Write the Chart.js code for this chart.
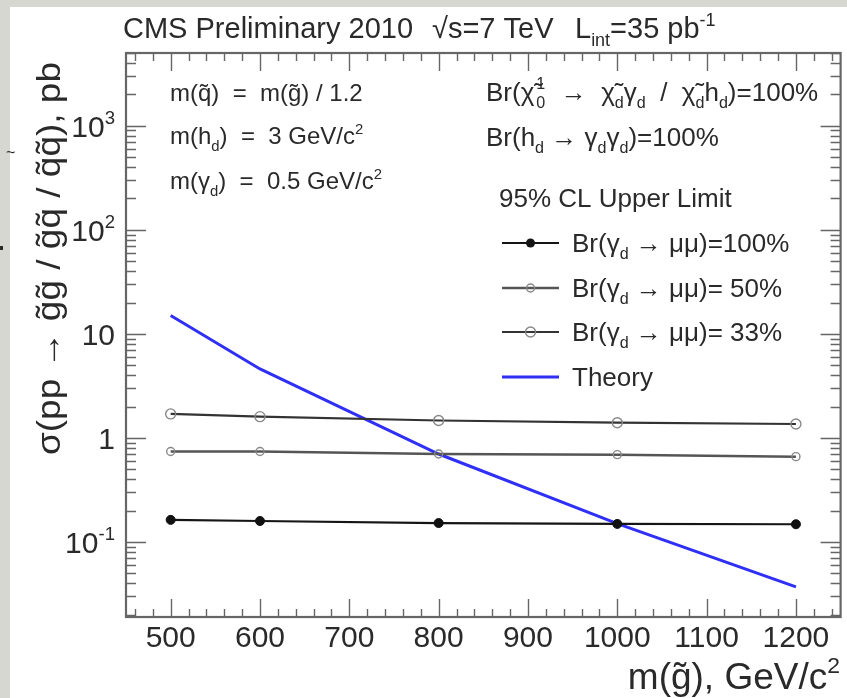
<!DOCTYPE html>
<html>
<head>
<meta charset="utf-8">
<script src="https://cdn.jsdelivr.net/npm/chart.js@4"></script>
<style>
  html, body { margin: 0; padding: 0; background: #fff; }
  canvas { display: block; }
</style>
</head>
<body>
<canvas id="limits" width="847" height="698"></canvas>
<script>
/* ── data ─────────────────────────────────────────────────── */
const MASS       = [500, 600, 800, 1000, 1200];
const LIMIT_100  = [0.163, 0.159, 0.152, 0.149, 0.148];
const LIMIT_50   = [0.74, 0.74, 0.70, 0.69, 0.66];
const LIMIT_33   = [1.70, 1.60, 1.47, 1.40, 1.36];
const THEORY     = [15.0, 4.6, 0.70, 0.15, 0.037];

const X_TICKS    = [500, 600, 700, 800, 900, 1000, 1100, 1200];
const Y_TICKS    = [0.1, 1, 10, 100, 1000];
const Y_LABELS   = [['10', '-1'], ['1', ''], ['10', ''], ['10', '2'], ['10', '3']];

/* ── styling ──────────────────────────────────────────────── */
const INK    = '#2a2a2a';
const FRAME  = '#666';
const BLUE   = '#2f2ff5';
const FAMILY = "'Liberation Sans', Arial, Helvetica, sans-serif";
const font = s => `${s}px ${FAMILY}`;

const pts = ys => MASS.map((m, i) => ({ x: m, y: ys[i] }));

/* rich text: parts = [text, kind], kind 'n' | 'sub' | 'sup' | 'ss' (sup over sub) */
function partWidth(ctx, p, size) {
    const [t, k] = p;
    if (k === 'n') { ctx.font = font(size); return ctx.measureText(t).width; }
    ctx.font = font(size * 0.62);
    if (k === 'ss') return Math.max(ctx.measureText(t[0]).width, ctx.measureText(t[1]).width);
    return ctx.measureText(t).width;
}
function drawRich(ctx, x, y, parts, size, align) {
    const total = parts.reduce((a, p) => a + partWidth(ctx, p, size), 0);
    let cx = align === 'right' ? x - total : align === 'center' ? x - total / 2 : x;
    ctx.textAlign = 'left';
    ctx.textBaseline = 'alphabetic';
    for (const p of parts) {
        const [t, k] = p;
        const w = partWidth(ctx, p, size);
        if (k === 'n') { ctx.font = font(size); ctx.fillText(t, cx, y); }
        else if (k === 'sup') { ctx.font = font(size * 0.62); ctx.fillText(t, cx, y - size * 0.42); }
        else if (k === 'sub') { ctx.font = font(size * 0.62); ctx.fillText(t, cx, y + size * 0.28); }
        else { ctx.font = font(size * 0.62); ctx.fillText(t[0], cx + 2, y - size * 0.48); ctx.fillText(t[1], cx + 2, y + size * 0.28); }
        cx += w + (k === 'ss' ? 3 : 0);
    }
}

const LEGEND = [
    { parts: [['Br(γ', 'n'], ['d', 'sub'], [' → μμ)=100%', 'n']], color: '#151515', width: 2.2, marker: 'filled', r: 4.5 },
    { parts: [['Br(γ', 'n'], ['d', 'sub'], [' → μμ)= 50%', 'n']], color: '#555', width: 2.5, marker: 'open', r: 4 },
    { parts: [['Br(γ', 'n'], ['d', 'sub'], [' → μμ)= 33%', 'n']], color: '#333', width: 2.2, marker: 'open', r: 5 },
    { parts: [['Theory', 'n']], color: BLUE, width: 3, marker: null },
];

const decor = {
    id: 'decor',
    beforeDraw(chart) {
        const { ctx, width, height } = chart;
        ctx.save();
        ctx.fillStyle = '#d7d7d1';
        ctx.fillRect(0, 0, width, height);
        ctx.fillStyle = '#ffffff';
        ctx.fillRect(10, 7, width - 10, height - 7);
        ctx.restore();
    },
    beforeDatasetsDraw(chart) {
        const { ctx, chartArea: a, scales: { x, y } } = chart;
        ctx.save();
        ctx.strokeStyle = FRAME;
        ctx.lineWidth = 1.4;
        ctx.beginPath();
        // x ticks, every 20 with majors every 100
        for (let v = 460; v <= 1240; v += 20) {
            const px = Math.round(x.getPixelForValue(v)) + 0.5;
            const len = v % 100 === 0 ? 18 : 8;
            ctx.moveTo(px, a.bottom); ctx.lineTo(px, a.bottom - len);
            ctx.moveTo(px, a.top);    ctx.lineTo(px, a.top + len);
        }
        // y ticks, log minors
        for (let e = -2; e <= 3; e++) {
            for (let k = 1; k <= 9; k++) {
                const v = k * Math.pow(10, e);
                if (v < y.min || v > y.max) continue;
                const py = Math.round(y.getPixelForValue(v)) + 0.5;
                const len = k === 1 ? 20 : 10;
                ctx.moveTo(a.left, py);  ctx.lineTo(a.left + len, py);
                ctx.moveTo(a.right, py); ctx.lineTo(a.right - len, py);
            }
        }
        ctx.stroke();
        ctx.lineWidth = 2.2;
        ctx.strokeRect(a.left, a.top, a.right - a.left, a.bottom - a.top);
        ctx.restore();
    },
    afterDraw(chart) {
        const { ctx, chartArea: a, scales: { x, y } } = chart;
        ctx.save();
        ctx.fillStyle = INK;

        // title line
        drawRich(ctx, 123, 38, [['CMS Preliminary 2010', 'n']], 29);
        drawRich(ctx, 432, 38, [['√s=7 TeV', 'n']], 29);
        drawRich(ctx, 575, 38, [['L', 'n'], ['int', 'sub'], ['=35 pb', 'n'], ['-1', 'sup']], 29);

        // axis tick labels
        X_TICKS.forEach(v => drawRich(ctx, x.getPixelForValue(v), 647, [[String(v), 'n']], 30, 'center'));
        Y_TICKS.forEach((v, i) => {
            const [b, s] = Y_LABELS[i];
            const parts = s ? [[b, 'n'], [s, 'sup']] : [[b, 'n']];
            drawRich(ctx, 115, y.getPixelForValue(v) + 11, parts, 30, 'right');
        });

        // axis titles
        drawRich(ctx, 840, 689, [['m(g\u0303), GeV/c', 'n'], ['2', 'sup']], 37, 'right');
        ctx.save();
        ctx.translate(60, 62);
        ctx.rotate(-Math.PI / 2);
        ctx.scale(1, 0.92);
        drawRich(ctx, 0, 0, [['σ(pp → g\u0303g\u0303 / g\u0303q\u0303 / q\u0303q\u0303), pb', 'n']], 37, 'right');
        ctx.restore();

        // parameter block
        const s1 = 24;
        drawRich(ctx, 170, 101, [['m(q\u0303)  =  m(g\u0303) / 1.2', 'n']], s1);
        drawRich(ctx, 170, 144, [['m(h', 'n'], ['d', 'sub'], [')  =  3 GeV/c', 'n'], ['2', 'sup']], s1);
        drawRich(ctx, 170, 189, [['m(γ', 'n'], ['d', 'sub'], [')  =  0.5 GeV/c', 'n'], ['2', 'sup']], s1);

        const s2 = 26;
        drawRich(ctx, 486, 101, [['Br(χ\u0303', 'n'], [['1', '0'], 'ss'], ['  →  χ\u0303', 'n'], ['d', 'sub'], ['γ', 'n'], ['d', 'sub'],
                                 ['  /  χ\u0303', 'n'], ['d', 'sub'], ['h', 'n'], ['d', 'sub'], [')=100%', 'n']], s2);
        drawRich(ctx, 486, 146, [['Br(h', 'n'], ['d', 'sub'], [' → γ', 'n'], ['d', 'sub'], ['γ', 'n'], ['d', 'sub'], [')=100%', 'n']], s2);
        drawRich(ctx, 499, 207, [['95% CL Upper Limit', 'n']], s2);

        // legend
        const rows = [243, 288, 332, 377];
        LEGEND.forEach((e, i) => {
            const cy = rows[i];
            ctx.strokeStyle = e.color;
            ctx.lineWidth = e.width;
            ctx.beginPath(); ctx.moveTo(502, cy); ctx.lineTo(559, cy); ctx.stroke();
            if (e.marker) {
                ctx.beginPath(); ctx.arc(530.5, cy, e.r, 0, Math.PI * 2);
                if (e.marker === 'filled') { ctx.fillStyle = e.color; ctx.fill(); }
                else { ctx.lineWidth = 1.4; ctx.strokeStyle = '#888'; ctx.stroke(); }
            }
            ctx.fillStyle = INK;
            drawRich(ctx, 572, cy + 9, e.parts, s2);
        });

        // stray marks in the left margin
        ctx.font = font(16);
        ctx.fillText('~', 6, 158);
        ctx.fillRect(0, 246, 3, 4);
        ctx.restore();
    },
};

new Chart(document.getElementById('limits'), {
    type: 'line',
    data: {
        datasets: [
            {
                label: 'Br=100%', data: pts(LIMIT_100),
                borderColor: '#151515', borderWidth: 2.2,
                pointRadius: 4.5, pointBackgroundColor: '#111', pointBorderColor: '#111', pointBorderWidth: 1,
            },
            {
                label: 'Br=50%', data: pts(LIMIT_50),
                borderColor: '#555', borderWidth: 2.5,
                pointRadius: 4, pointBackgroundColor: 'rgba(0,0,0,0)', pointBorderColor: '#888', pointBorderWidth: 1.4,
            },
            {
                label: 'Br=33%', data: pts(LIMIT_33),
                borderColor: '#333', borderWidth: 2.2,
                pointRadius: 5, pointBackgroundColor: 'rgba(0,0,0,0)', pointBorderColor: '#888', pointBorderWidth: 1.4,
            },
            {
                label: 'Theory', data: pts(THEORY),
                borderColor: BLUE, borderWidth: 3, pointRadius: 0,
            },
        ],
    },
    options: {
        responsive: false,
        animation: false,
        devicePixelRatio: 1,
        layout: { padding: { left: 126, top: 53, right: 5, bottom: 81 } },
        plugins: { legend: { display: false }, tooltip: { enabled: false } },
        scales: {
            x: { type: 'linear', min: 450, max: 1250, display: false },
            y: { type: 'logarithmic', min: 0.019, max: 5000, display: false },
        },
    },
    plugins: [decor],
});
</script>
</body>
</html>
